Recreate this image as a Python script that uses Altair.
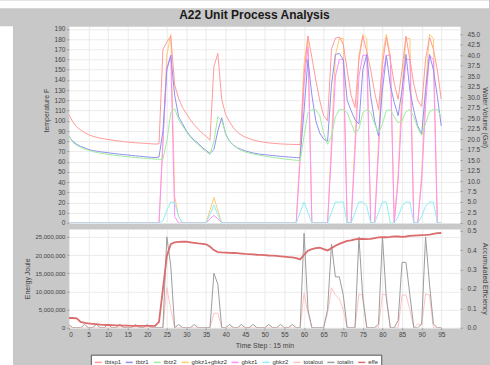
import altair as alt
import pandas as pd

t = list(range(96))

tbtsp1 = [106, 99, 94, 91, 88.5, 86.5, 85, 84, 83, 82.3,
          81.7, 81.1, 80.6, 80.1, 79.6, 79.2, 78.8, 78.5, 78.2, 78,
          77.8, 77.5, 77.2, 77.5, 170, 177, 183, 135, 122, 113,
          107, 101, 96, 92, 88, 85, 81, 153, 166, 121,
          106, 99, 93, 89, 86, 84, 82.5, 81.3, 80.3, 79.5,
          78.9, 78.4, 78, 77.7, 77.4, 77.2, 77, 76.9, 76.8, 76.8,
          145, 183, 162, 140, 120, 105, 100, 170, 181, 182,
          175, 150, 125, 113, 160, 183, 168, 150, 128, 111,
          155, 182, 160, 137, 121, 150, 183, 160, 136, 120,
          114, 160, 182, 170, 150, 121]
tbtz1 = [85, 80, 77, 75, 73.5, 72, 71, 70.3, 69.7, 69.2,
         68.7, 68.2, 67.7, 67.3, 66.9, 66.5, 66.1, 65.7, 65.3, 65,
         64.6, 64.3, 64, 64.5, 90, 150, 164, 125, 104, 97,
         90, 85, 81, 78, 74, 71, 68, 72, 90, 103,
         87, 80, 76, 73.5, 72, 70.5, 69.5, 68.5, 67.8, 67.2,
         66.8, 66.4, 66, 65.6, 65.2, 64.9, 64.6, 64.3, 64, 63.8,
         110, 160, 125, 100, 88, 82, 80, 135, 165, 166,
         160, 120, 110, 101, 97, 150, 165, 124, 100, 85,
         130, 164, 135, 118, 105, 130, 165, 130, 110, 95,
         87, 130, 165, 150, 124, 95]
tbtz2 = [85, 79, 76, 74, 72.5, 71, 70, 69, 68.3, 67.7,
         67.1, 66.6, 66.1, 65.6, 65.2, 64.8, 64.4, 64, 63.7, 63.4,
         63.1, 62.8, 62.5, 62.3, 62.5, 80, 108, 112, 101, 95,
         89, 84, 80, 76.5, 73, 70, 67, 80, 104, 100,
         88, 80, 76, 73, 71, 69.5, 68.5, 67.6, 66.8, 66.1,
         65.4, 64.8, 64.2, 63.6, 63.1, 62.6, 62.2, 61.8, 61.4, 61,
         85, 108, 111, 111, 105, 88, 77, 85, 104, 111,
         111, 108, 98, 88, 92, 108, 111, 108, 97, 88,
         97, 110, 111, 104, 98, 100, 109, 111, 104, 93,
         86, 97, 109, 111, 111, 104]

gbkz_sum = [0, 0, 0, 0, 0, 0, 0, 0, 0, 0,
            0, 0, 0, 0, 0, 0, 0, 0, 0, 0,
            0, 0, 0, 0, 19.5, 40, 45, 6.3, 1.5, 0,
            0, 0, 0, 0, 0, 0, 3, 6.1, 3, 0,
            0, 0, 0, 0, 0, 0, 0, 0, 0, 0,
            0, 0, 0, 0, 0, 0, 0, 0, 0, 17.5,
            38, 44.5, 0, 0, 0, 0, 0, 19.5, 40, 44,
            44, 0, 0, 19.5, 40, 45, 44, 0, 0, 19.5,
            40, 45, 40, 0, 11.5, 32, 44, 44, 0, 0,
            11.5, 32, 45, 44, 0, 0]
gbkz1 = [0, 0, 0, 0, 0, 0, 0, 0, 0, 0,
         0, 0, 0, 0, 0, 0, 0, 0, 0, 0,
         0, 0, 0, 0, 19, 37, 40, 1.5, 0, 0,
         0, 0, 0, 0, 0, 0, 1, 1.8, 1, 0,
         0, 0, 0, 0, 0, 0, 0, 0, 0, 0,
         0, 0, 0, 0, 0, 0, 0, 0, 0, 15,
         33, 42, 0, 0, 0, 0, 0, 17, 35, 39,
         39, 0, 0, 17, 35, 40, 40, 0, 0, 17,
         35, 40, 40, 0, 10, 28, 39, 39, 0, 0,
         10, 28, 40, 39, 0, 0]
gbkz2 = [0, 0, 0, 0, 0, 0, 0, 0, 0, 0,
         0, 0, 0, 0, 0, 0, 0, 0, 0, 0,
         0, 0, 0, 0, 0.5, 3, 5, 4.8, 1.5, 0,
         0, 0, 0, 0, 0, 0, 2, 4.3, 2, 0,
         0, 0, 0, 0, 0, 0, 0, 0, 0, 0,
         0, 0, 0, 0, 0, 0, 0, 0, 0, 2.5,
         5, 2.5, 0, 0, 0, 0, 0, 2.5, 5, 5,
         5, 0, 0, 2.5, 5, 5, 4, 0, 0, 2.5,
         5, 5, 0, 0, 1.5, 4, 5, 5, 0, 0,
         1.5, 4, 5, 5, 0, 0]

# energy values in millions of joules
totalout_mj = [0, 0, 0, 0, 0, 0, 0, 0, 0, 0,
               0, 0, 0, 0, 0, 0, 0, 0, 0, 0,
               0, 0, 0, 0, 0, 11, 5, 0, 0, 0,
               0, 0, 0, 0, 0, 0, 0, 4, 4, 0,
               0, 0, 0, 0, 0, 0, 0, 0, 0, 0,
               0, 0, 0, 0, 0, 0, 0, 0, 0, 0,
               9.5, 4, 0, 0, 0, 0, 4, 11, 9, 8,
               5, 0, 0, 0, 9.3, 9, 0, 0, 0, 0,
               9.3, 9, 0, 0, 0, 9, 9, 5, 0, 1,
               0.8, 9.3, 9, 0, 0, 0]
totalin_mj = [0.8, 0, 0, 0, 0.9, 0, 0, 0.9, 0, 0,
              0.9, 0, 0, 0.9, 0, 0, 0, 0.9, 0, 0,
              0.9, 0, 0, 0, 0, 25, 17, 0, 0.9, 0,
              0, 0, 0.9, 0, 0, 0, 0, 15, 12, 0,
              0, 0.9, 0, 0, 0.9, 0, 0, 0.9, 0, 0,
              0, 0.9, 0, 0, 0.9, 0, 0, 0.9, 0, 0,
              26, 5, 0, 0, 0, 0, 5, 23, 14, 14,
              9, 0, 0, 0, 25, 8, 0, 0, 0, 1,
              25, 8, 0, 0, 2, 18, 18, 9, 0, 0,
              1, 25, 12, 1, 0, 0]
effe = [0.05, 0.05, 0.048, 0.03, 0.025, 0.022, 0.02, 0.018, 0.016, 0.015,
        0.014, 0.013, 0.012, 0.012, 0.011, 0.011, 0.01, 0.01, 0.01, 0.009,
        0.009, 0.009, 0.009, 0.03, 0.2, 0.37, 0.43, 0.44, 0.442, 0.443,
        0.443, 0.44, 0.437, 0.434, 0.432, 0.43, 0.418, 0.4, 0.39, 0.388,
        0.387, 0.386, 0.385, 0.384, 0.382, 0.38, 0.379, 0.378, 0.376, 0.375,
        0.374, 0.372, 0.371, 0.37, 0.368, 0.366, 0.364, 0.362, 0.358, 0.352,
        0.375, 0.397, 0.405, 0.41, 0.412, 0.405, 0.398, 0.41, 0.422, 0.432,
        0.44, 0.447, 0.45, 0.455, 0.457, 0.457, 0.456, 0.458, 0.462, 0.465,
        0.466, 0.466, 0.468, 0.471, 0.47, 0.468, 0.47, 0.473, 0.475, 0.476,
        0.477, 0.478, 0.48, 0.484, 0.487, 0.488]

series_names = ['tbtsp1', 'tbtz1', 'tbtz2', 'gbkz1+gbkz2', 'gbkz1', 'gbkz2',
                'totalout', 'totalin', 'effe']
series_colors = ['#ff9a9a', '#9090f2', '#a0eca0', '#ffca72', '#ff8cff', '#8cf0f6',
                 '#ffc2c2', '#9c9c9c', '#dc6c6c']

temp_ticks = list(range(0, 200, 10))
gal_ticks = [i * 2.5 for i in range(19)]
energy_ticks = [0, 5000000, 10000000, 15000000, 20000000, 25000000]
eff_ticks = [0, 0.1, 0.2, 0.3, 0.4, 0.5]
x_ticks = list(range(0, 100, 5))

for arr in [tbtsp1, tbtz1, tbtz2, gbkz_sum, gbkz1, gbkz2, totalout_mj, totalin_mj, effe]:
    assert len(arr) == 96, len(arr)


def long_df(names, arrays, field, mult=1.0):
    rows = []
    for n, arr in zip(names, arrays):
        for i, v in zip(t, arr):
            rows.append({'t': i, 'series': n, field: v * mult})
    return pd.DataFrame(rows)


temp_df = long_df(['tbtsp1', 'tbtz1', 'tbtz2'], [tbtsp1, tbtz1, tbtz2], 'temp')
gal_df = long_df(['gbkz1+gbkz2', 'gbkz1', 'gbkz2'], [gbkz_sum, gbkz1, gbkz2], 'gal')
energy_df = long_df(['totalout', 'totalin'], [totalout_mj, totalin_mj], 'energy', 1e6)
eff_df = long_df(['effe'], [effe], 'eff')

FONT = 'Liberation Sans'
BG = '#c8c8c8'
GRID = '#e6e6e6'
W = 392

color = alt.Color(
    'series:N',
    scale=alt.Scale(domain=series_names, range=series_colors),
    legend=alt.Legend(
        title=None, orient='none', legendX=91, legendY=355,
        direction='horizontal', columns=9, symbolType='stroke',
        symbolSize=49, symbolStrokeWidth=1.5, labelFont=FONT,
        labelFontSize=6, labelColor='#333', padding=3,
        strokeColor='#555', fillColor='white', columnPadding=1,
        labelOffset=2,
    ),
)

x_top = alt.X('t:Q', scale=alt.Scale(domain=[0, 99.8], nice=False, zero=False),
              axis=alt.Axis(values=x_ticks, labels=False, ticks=False, domain=False,
                            title=None, grid=True))
x_bot = alt.X('t:Q', scale=alt.Scale(domain=[0, 99.8], nice=False, zero=False),
              axis=alt.Axis(values=x_ticks, title='Time Step : 15 min', grid=True,
                            labelPadding=2, titlePadding=3))

gal_layer = alt.Chart(gal_df).mark_line(strokeWidth=1, clip=True).encode(
    x=x_top,
    y=alt.Y('gal:Q', scale=alt.Scale(domain=[0, 46.9], nice=False),
            axis=alt.Axis(orient='right', values=gal_ticks, format='.1f',
                          title='Water Volume (Gal)', grid=False, labelPadding=5,
                          titlePadding=2, titleY=91)),
    color=color,
    order=alt.Order('t:Q'),
)
temp_layer = alt.Chart(temp_df).mark_line(strokeWidth=1, clip=True).encode(
    x=x_top,
    y=alt.Y('temp:Q', scale=alt.Scale(domain=[0, 192.5], nice=False),
            axis=alt.Axis(orient='left', values=temp_ticks, title='temperature F',
                          grid=True, titlePadding=5, titleY=84)),
    color=color,
    order=alt.Order('t:Q'),
)
top = alt.layer(gal_layer, temp_layer).resolve_scale(y='independent').properties(
    width=W, height=197,
    title=alt.TitleParams('A22 Unit Process Analysis', font=FONT, fontSize=12,
                          fontWeight='bold', color='#1a1a1a', anchor='middle',
                          frame='group', dx=-10, offset=4),
)

energy_layer = alt.Chart(energy_df).mark_line(strokeWidth=1, clip=True).encode(
    x=x_bot,
    y=alt.Y('energy:Q', scale=alt.Scale(domain=[0, 27200000], nice=False),
            axis=alt.Axis(orient='left', values=energy_ticks, format=',d',
                          title='Energy Joule', grid=True, labelFontSize=6,
                          minExtent=34, maxExtent=34, titlePadding=4)),
    color=color,
    order=alt.Order('t:Q'),
)
eff_layer = alt.Chart(eff_df).mark_line(strokeWidth=1.8, clip=True).encode(
    x=x_bot,
    y=alt.Y('eff:Q', scale=alt.Scale(domain=[0, 0.509], nice=False),
            axis=alt.Axis(orient='right', values=eff_ticks, format='.1f',
                          title='Accumulated Efficiency', grid=False, labelPadding=5,
                          titlePadding=5)),
    color=color,
    order=alt.Order('t:Q'),
)
bottom = alt.layer(energy_layer, eff_layer).resolve_scale(y='independent').properties(
    width=W, height=99)

main = alt.vconcat(top, bottom, spacing=6, bounds='flush')

spacer_df = pd.DataFrame({'v': [0]})
top_strip = alt.Chart(spacer_df).mark_point(opacity=0, size=1).encode(
    x=alt.value(3), y=alt.value(3)).properties(
    width=490, height=8, view=alt.ViewBackground(fill='white', strokeWidth=0))
left_strip = alt.Chart(spacer_df).mark_point(opacity=0, size=1).encode(
    x=alt.value(3), y=alt.value(3)).properties(
    width=13, height=357, view=alt.ViewBackground(fill='white', strokeWidth=0))

chart = alt.vconcat(
    top_strip,
    alt.hconcat(left_strip, main, spacing=10),
    spacing=0,
).properties(
    background=BG, padding=0,
).configure_view(
    stroke='transparent', fill='white',
).configure_axis(
    labelFont=FONT, labelFontSize=6.5, labelColor='#444',
    titleFont=FONT, titleFontSize=7, titleFontWeight='normal', titleColor='#444',
    tickColor='#999', tickSize=2, labelPadding=2, domain=False,
    gridColor=GRID, gridWidth=0.8, titlePadding=4,
)

chart.save('out.html', embed_options={'renderer': 'svg', 'actions': False})
